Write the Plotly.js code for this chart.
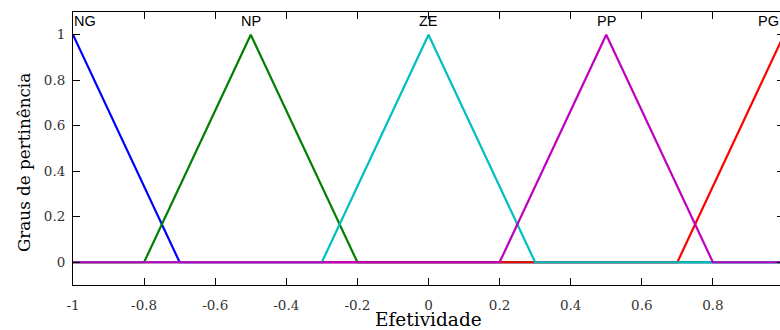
<!DOCTYPE html>
<html>
<head>
<meta charset="utf-8">
<script src="https://cdn.plot.ly/plotly-3.0.1.min.js"></script>
<style>
html,body{margin:0;padding:0;overflow:hidden;background:#fff;}
#chart{width:790px;height:330px;}
</style>
</head>
<body>
<div id="chart"></div>
<script>
// Membership functions (vertices of each triangle over the universe [-1, 1])
const mfNames = ["NG", "NP", "ZE", "PP", "PG"];
const ngX = [-1, -0.7, 1];         const ngY = [1, 0, 0];
const npX = [-1, -0.8, -0.5, -0.2, 1]; const npY = [0, 0, 1, 0, 0];
const zeX = [-1, -0.3, 0, 0.3, 1];  const zeY = [0, 0, 1, 0, 0];
const ppX = [-1, 0.2, 0.5, 0.8, 1]; const ppY = [0, 0, 1, 0, 0];
const pgX = [-1, 0.7, 1];           const pgY = [0, 0, 1];
const peakX = [-1, -0.5, 0, 0.5, 1];
const xTickVals = [-1, -0.8, -0.6, -0.4, -0.2, 0, 0.2, 0.4, 0.6, 0.8, 1];
const xTickText = ["-1", "-0.8", "-0.6", "-0.4", "-0.2", "0", "0.2", "0.4", "0.6", "0.8", "1"];
const yTickVals = [0, 0.2, 0.4, 0.6, 0.8, 1];
const yTickText = ["0", "0.2", "0.4", "0.6", "0.8", "1"];

const colors = {NG: "#0000ff", NP: "#008000", ZE: "#00bfbf", PP: "#bf00bf", PG: "#ff0000"};
function tr(x, y, name) {
  return {x: x, y: y, type: "scatter", mode: "lines", name: name,
          line: {color: colors[name], width: 2.2}, hoverinfo: "skip"};
}
// drawing order: NG, NP, PG, ZE, PP (PP on top)
const data = [tr(ngX, ngY, "NG"), tr(npX, npY, "NP"), tr(pgX, pgY, "PG"),
              tr(zeX, zeY, "ZE"), tr(ppX, ppY, "PP")];

// label x offsets so edge labels stay inside the box
const labelX = peakX.map((v, i) => i === 0 ? v + 0.035 : (i === 4 ? v - 0.045 : v));
const annotations = mfNames.map((n, i) => ({
  x: labelX[i], y: 1.062, xref: "x", yref: "y", text: n, showarrow: false,
  xanchor: "center", yanchor: "middle",
  font: {family: "Liberation Sans, Arial, sans-serif", size: 14.5, color: "#000"}
}));
annotations.push({
  x: -0.069, y: 0.45, xref: "paper", yref: "paper", text: "Graus de pertinência",
  showarrow: false, textangle: -90, xanchor: "center", yanchor: "middle",
  font: {family: "DejaVu Serif, serif", size: 16.8, color: "#000"}
});
annotations.push({
  x: 0, y: -0.128, xref: "x", yref: "paper", text: "Efetividade",
  showarrow: false, xanchor: "center", yanchor: "middle",
  font: {family: "DejaVu Serif, serif", size: 18.5, color: "#000"}
});

const axisCommon = {
  showgrid: false, zeroline: false, showline: true, linecolor: "#000", linewidth: 1,
  mirror: "allticks", ticks: "inside", ticklen: 7, tickwidth: 1, tickcolor: "#000",
  tickfont: {family: "DejaVu Serif, serif", size: 13.5, color: "#333"}
};
const layout = {
  width: 790, height: 330,
  margin: {l: 73, r: 6, t: 12, b: 45},
  paper_bgcolor: "#fff", plot_bgcolor: "#fff",
  showlegend: false,
  xaxis: Object.assign({}, axisCommon, {range: [-1, 1], tickmode: "array",
    tickvals: xTickVals, ticktext: xTickText, ticklabelstandoff: 8}),
  yaxis: Object.assign({}, axisCommon, {range: [-0.1, 1.1], tickmode: "array",
    tickvals: yTickVals, ticktext: yTickText, ticklabelstandoff: 4}),
  annotations: annotations
};
Plotly.newPlot("chart", data, layout, {staticPlot: true, displayModeBar: false});
</script>
</body>
</html>
